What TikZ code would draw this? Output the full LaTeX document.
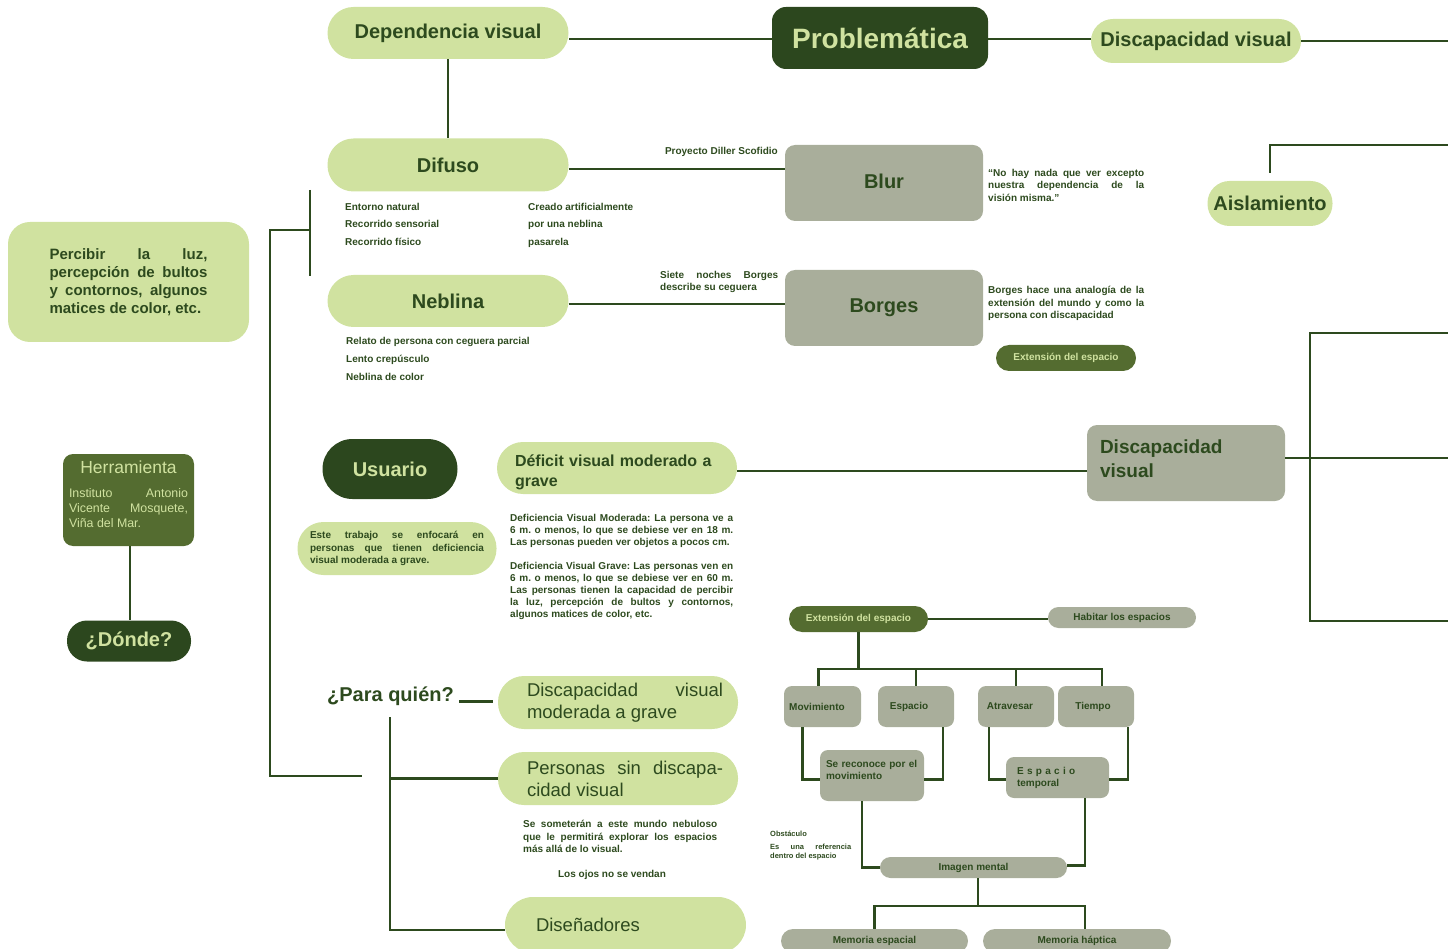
\documentclass[tikz,border=0pt]{standalone}
\usepackage{fontspec}
\setmainfont{Liberation Sans}
\usepackage{xcolor}
\usetikzlibrary{positioning}

\definecolor{paleg}{HTML}{D0E2A0}
\definecolor{deepg}{HTML}{2C471E}
\definecolor{midg}{HTML}{546C30}
\definecolor{greyg}{HTML}{A9AE9B}
\definecolor{inkg}{HTML}{2D4A1E}

\newcommand{\fsz}[2]{\fontsize{#1}{#2}\selectfont}

\tikzset{
  conn/.style={draw=inkg,line width=2.5pt},
  palebox/.style={fill=paleg,text=inkg,inner sep=0pt,rounded corners=#1},
  deepbox/.style={fill=deepg,text=paleg,inner sep=0pt,rounded corners=#1},
  midbox/.style={fill=midg,text=paleg,inner sep=0pt,rounded corners=#1},
  greybox/.style={fill=greyg,text=inkg,inner sep=0pt,rounded corners=#1},
  notetext/.style={text=inkg,inner sep=0pt,font=\bfseries\fsz{10}{12.5}},
}

\begin{document}
\frenchspacing
\begin{tikzpicture}[x=1pt,y=-1pt]
  \useasboundingbox (0,0) rectangle (1448,949);

  % big titles
  \begin{scope}[every node/.style={font=\bfseries\fsz{20}{24}}]
    \node[palebox=26pt,minimum width=241pt,minimum height=52pt] (dep) at (448,33) {Dependencia visual};
    \node[deepbox=14pt,minimum width=216pt,minimum height=62pt,font=\bfseries\fsz{28}{32}] (prob) at (880,38) {Problemática};
    \node[palebox=22pt,minimum width=210pt,minimum height=44pt] (dvis) at (1196,41) {Discapacidad visual};
    \node[palebox=26pt,minimum width=241pt,minimum height=53pt] (dif) at (448,165) {Difuso};
    \node[palebox=26pt,minimum width=241pt,minimum height=52pt] (neb) at (448,301) {Neblina};
    \node[greybox=10pt,minimum width=198pt,minimum height=76pt] (blur) at (884,183) {\raisebox{3pt}{Blur}};
    \node[greybox=10pt,minimum width=198pt,minimum height=76pt] (borg) at (884,308) {Borges};
    \node[palebox=22pt,minimum width=125pt,minimum height=45pt] (ais) at (1270,203.5) {Aislamiento};
    \node[deepbox=20pt,minimum width=124pt,minimum height=41pt] (donde) at (129,641) {¿Dónde?};
    \node[deepbox=30pt,minimum width=135pt,minimum height=60pt] (usu) at (390,469) {Usuario};
    \node[text=inkg,inner sep=0pt] (pq) at (390.5,696) {¿Para quién?};
    \node[palebox=26pt,minimum width=240pt,minimum height=52pt,text width=204pt,align=left,font=\bfseries\fsz{16}{20}] (def) at (617,468) {Déficit visual moderado a\\grave\par\vspace{-8pt}};
    \node[greybox=10pt,minimum width=198pt,minimum height=76pt,text width=172pt,align=left,font=\bfseries\fsz{19}{24}] (dvgr) at (1186,463) {Discapacidad\\visual\par\vspace{9pt}};
  \end{scope}

  \node[palebox=22pt,minimum width=241pt,minimum height=120pt,text width=158pt,align=justify,font=\bfseries\fsz{15}{18}] (perc) at (128.5,282)
    {Percibir la luz,\linebreak percepción de bultos\linebreak y contornos, algunos\linebreak matices de color, etc.\par};
  \node[midbox=10pt,minimum width=131pt,minimum height=92pt,text width=119pt,align=justify,font=\fsz{12.4}{15}] (herr) at (128.5,500)
    {{\centering\fsz{17.5}{20}Herramienta\par}\vspace{9pt}Instituto Antonio\linebreak Vicente Mosquete,\linebreak Viña del Mar.\par\vspace{12pt}};
  \node[midbox=13pt,minimum width=140pt,minimum height=26pt,font=\bfseries\fsz{10}{12}] (ext1) at (1066,358) {Extensión del espacio};
  \node[palebox=26pt,minimum width=199pt,minimum height=53pt,text width=174pt,align=justify,font=\bfseries\fsz{10}{12.5}] (este) at (397,548.5)
    {Este trabajo se enfocará en\linebreak personas que tienen deficiencia\linebreak visual moderada a grave.\par};

  \begin{scope}[every node/.style={text width=210pt,align=justify,font=\fsz{18.5}{22}}]
    \node[palebox=26pt,minimum width=240pt,minimum height=53pt] (dmg) at (618,702.5) {\leftskip=14pt Discapacidad visual\linebreak moderada a grave\par};
    \node[palebox=26pt,minimum width=240pt,minimum height=53pt] (per) at (618,778.5) {\leftskip=14pt Personas sin discapa-\linebreak cidad visual\par};
    \node[palebox=28pt,minimum width=241pt,minimum height=56pt,text width=179pt,align=left] (dise) at (625.5,925) {Diseñadores};
  \end{scope}

  % small texts
  \node[notetext,anchor=base east] (diller) at (778,155) {Proyecto Diller Scofidio};
  \node[notetext,font=\bfseries\fsz{10}{17.5},align=left,anchor=north west] (difL) at (345,203) {Entorno natural\\Recorrido sensorial\\Recorrido físico};
  \node[notetext,font=\bfseries\fsz{10}{17.5},align=left,anchor=north west] (difR) at (528,203) {Creado artificialmente\\por una neblina\\pasarela};
  \node[notetext,font=\bfseries\fsz{10}{18},align=left,anchor=north west] (nebL) at (346,337) {Relato de persona con ceguera parcial\\Lento crepúsculo\\Neblina de color};
  \node[notetext,text width=156pt,align=justify,anchor=north west] (quote) at (988,169) {“No hay nada que ver excepto\linebreak nuestra dependencia de la\linebreak visión misma.”\par};
  \node[notetext,text width=118pt,align=justify,anchor=north west] (siete) at (660,271) {Siete noches Borges\linebreak describe su ceguera\par};
  \node[notetext,text width=156pt,align=justify,anchor=north west] (borgtx) at (988,286) {Borges hace una analogía de la\linebreak extensión del mundo y como la\linebreak persona con discapacidad\par};
  \node[notetext,font=\bfseries\fsz{10}{12},text width=223pt,align=justify,anchor=north west] (defi) at (510,514)
    {Deficiencia Visual Moderada: La persona ve a\linebreak 6 m. o menos, lo que se debiese ver en 18 m.\linebreak Las personas pueden ver objetos a pocos cm.\par\vspace{12pt}
     Deficiencia Visual Grave: Las personas ven en\linebreak 6 m. o menos, lo que se debiese ver en 60 m.\linebreak Las personas tienen la capacidad de percibir\linebreak la luz, percepción de bultos y contornos,\linebreak algunos matices de color, etc.\par};
  \node[notetext,text width=194pt,align=justify,anchor=north west] (somet) at (523,820) {Se someterán a este mundo nebuloso\linebreak que le permitirá explorar los espacios\linebreak más allá de lo visual.\par};
  \node[notetext] (ojos) at (612,875) {Los ojos no se vendan};
  \node[notetext,font=\bfseries\fsz{7.5}{9},anchor=west] (obst) at (770,834) {Obstáculo};
  \node[notetext,font=\bfseries\fsz{7.5}{9},text width=81pt,align=justify,anchor=north west] (obref) at (770,844) {Es una referencia\linebreak dentro del espacio\par};

  % espacio cluster
  \begin{scope}[every node/.style={font=\bfseries\fsz{10}{12}}]
    \node[midbox=13pt,minimum width=139pt,minimum height=26pt] (ext2) at (858.5,619) {Extensión del espacio};
    \node[greybox=10.5pt,minimum width=148pt,minimum height=21pt] (hab) at (1122,617.5) {Habitar los espacios};
    \node[greybox=8pt,minimum width=77pt,minimum height=41pt] (mov) at (822.5,706.5) {Movimiento\kern11pt};
    \node[greybox=8pt,minimum width=76pt,minimum height=41pt] (esp) at (916,706.5) {\raisebox{2pt}{Espacio}\kern14pt};
    \node[greybox=8pt,minimum width=76pt,minimum height=41pt] (atr) at (1016,706.5) {Atravesar\kern12pt};
    \node[greybox=8pt,minimum width=76pt,minimum height=41pt] (tie) at (1096,706.5) {Tiempo\kern6pt};
    \node[greybox=8pt,minimum width=104pt,minimum height=51pt,text width=92pt,align=left] (recon) at (872,775.5) {Se reconoce por el\\movimiento\par\vspace{12pt}};
    \node[greybox=8pt,minimum width=103pt,minimum height=41pt,text width=81pt,align=left] (espt) at (1057.5,777.5) {\makebox[77pt][s]{E s p a c i o}\\temporal\par};
    \node[greybox=10.5pt,minimum width=187pt,minimum height=21pt] (img) at (973.5,867.5) {Imagen mental};
    \node[greybox=12pt,minimum width=187pt,minimum height=24pt] (mesp) at (874.5,941) {Memoria espacial};
    \node[greybox=12pt,minimum width=188pt,minimum height=24pt] (mhap) at (1077,941) {Memoria háptica};
  \end{scope}

  \coordinate (dvisR) at (1448,40);
  \coordinate (aisR) at (1448,145);
  \coordinate (dvR) at (1448,458);
  \coordinate (rbA) at (1448,333);
  \coordinate (rbB) at (1310,333);
  \coordinate (rbC) at (1310,621);
  \coordinate (rbD) at (1448,621);
  \coordinate (lbA) at (310,190);
  \coordinate (lbB) at (310,276);
  \coordinate (lbC) at (310,230);
  \coordinate (lbD) at (270,776);
  \coordinate (lbE) at (362,776);
  \coordinate (pqA) at (390,717);
  \coordinate (pqB) at (390,930);
  \coordinate (hub) at (858.5,669);
  \coordinate (mhub) at (978,906);

  \draw[conn] ([yshift=-1pt]prob.west) -- ([yshift=-1pt]prob.west -| dep.east);
  \draw[conn] ([yshift=-1pt]prob.east) -- ([yshift=-1pt]prob.east -| dvis.west);
  \draw[conn] (dvis.east) -- (dvis.east -| dvisR);
  \draw[conn] (dep.south) -- (dif.north);
  \draw[conn] ([yshift=-4pt]dif.east) -- ([yshift=-4pt]dif.east -| blur.west);
  \draw[conn] ([yshift=-3pt]neb.east) -- ([yshift=-3pt]neb.east -| borg.west);
  \draw[conn] ([yshift=8pt]ais.north) |- (aisR);
  \draw[conn] ([yshift=-3pt]def.east) -- ([yshift=-3pt]def.east -| dvgr.west);
  \draw[conn] (dvR -| dvgr.east) -- (dvR);
  \draw[conn] (rbA) -- (rbB) -- (rbC) -- (rbD);
  \draw[conn] ([xshift=1.5pt]herr.south) -- ([xshift=1.5pt]herr.south |- donde.north);
  \draw[conn] (lbA) -- (lbB);
  \draw[conn] (lbC) -| (lbD) -- (lbE);
  \draw[conn] ([xshift=5pt]pq.base east) -- ([xshift=-5pt]pq.base east -| dmg.west);
  \draw[conn] (pqA) -- (pqB) -- (pqB -| dise.west);
  \draw[conn] (per.west -| pqA) -- (per.west);

  \draw[conn] (ext2.east) -- (ext2.east -| hab.west);
  \draw[conn] (ext2.south) -- (hub);
  \draw[conn] ([xshift=-4pt]mov.north) -- ([xshift=-4pt]mov.north |- hub) -- ([xshift=6pt]tie.north |- hub) -- ([xshift=6pt]tie.north);
  \foreach \n in {esp,atr}
    \draw[conn] (\n.north |- hub) -- (\n.north);
  \draw[conn] ([xshift=-20pt]mov.south) |- ([yshift=-4pt]recon.west);
  \draw[conn] ([xshift=27pt]esp.south) |- ([yshift=-4pt]recon.east);
  \draw[conn] ([xshift=-27pt]atr.south) |- ([yshift=-2pt]espt.west);
  \draw[conn] ([xshift=32pt]tie.south) |- ([yshift=-2pt]espt.east);
  \draw[conn] ([xshift=-10pt]recon.south) |- (img.west);
  \draw[conn] ([xshift=27.5pt]espt.south) |- ([yshift=2pt]img.east);
  \draw[conn] ([xshift=4.5pt]img.south) -- (mhub);
  \draw[conn] (mesp.north) -- (mesp.north |- mhub) -- ([xshift=8pt]mhap.north |- mhub) -- ([xshift=8pt]mhap.north);
\end{tikzpicture}
\end{document}
